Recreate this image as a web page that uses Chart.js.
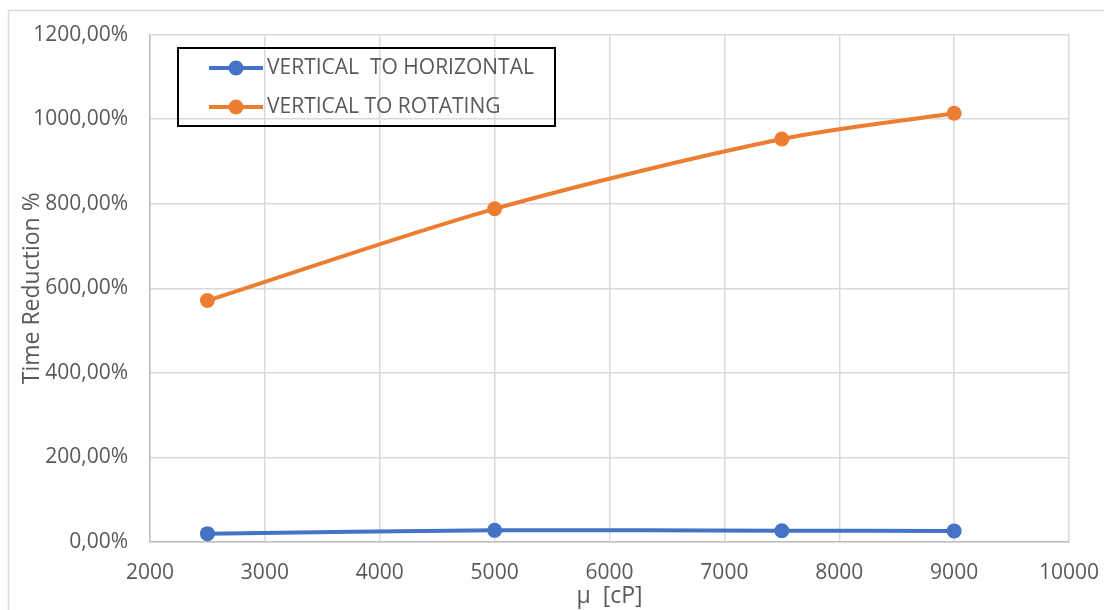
<!DOCTYPE html>
<html>
<head>
<meta charset="utf-8">
<script src="https://cdn.jsdelivr.net/npm/chart.js@4"></script>
<style>
  html, body { margin: 0; padding: 0; background: #fff; }
</style>
</head>
<body>
<canvas id="chart" width="1104" height="610"></canvas>
<script>
// values
const viscosity = [2500, 5000, 7500, 9000];
const horizontal = [19.8, 27.6, 26.7, 26.3];
const rotating = [571, 788, 953, 1014];
const seriesNames = ['VERTICAL  TO HORIZONTAL', 'VERTICAL TO ROTATING'];
const seriesColors = ['#4472C4', '#ED7D31'];
const xRange = [2000, 10000, 1000];
const yRange = [0, 1200, 200];
const xTitle = 'μ  [cP]';
const yTitle = 'Time Reduction %';

const FONT = 'Open Sans';
const TEXT = '#595959';

function toPoints(xs, ys) {
  return xs.map((x, i) => ({ x: x, y: ys[i] }));
}

// white background + thin grey frame like the Excel chart area
const frame = {
  id: 'frame',
  beforeDraw(chart) {
    const ctx = chart.ctx;
    ctx.save();
    ctx.fillStyle = '#fff';
    ctx.fillRect(0, 0, chart.width, chart.height);
    ctx.strokeStyle = '#d9d9d9';
    ctx.lineWidth = 1.5;
    ctx.strokeRect(8.5, 10.5, chart.width + 20, chart.height + 20);
    ctx.restore();
  }
};

// boxed legend inside the plot area
const boxLegend = {
  id: 'boxLegend',
  afterDraw(chart) {
    const ctx = chart.ctx;
    ctx.save();
    ctx.strokeStyle = '#000';
    ctx.lineWidth = 2;
    ctx.strokeRect(178, 48, 377, 78);
    ctx.font = `21px "${FONT}"`;
    ctx.textBaseline = 'middle';
    chart.data.datasets.forEach((ds, i) => {
      const y = 68 + i * 39;
      ctx.strokeStyle = ds.borderColor;
      ctx.lineWidth = 4;
      ctx.beginPath();
      ctx.moveTo(209, y);
      ctx.lineTo(263, y);
      ctx.stroke();
      ctx.fillStyle = ds.borderColor;
      ctx.beginPath();
      ctx.arc(236, y, 7.5, 0, Math.PI * 2);
      ctx.fill();
      ctx.fillStyle = TEXT;
      ctx.fillText(ds.label, 267, y);
    });
    ctx.restore();
  }
};

new Chart(document.getElementById('chart'), {
  type: 'line',
  data: {
    datasets: [
      { label: seriesNames[0], data: toPoints(viscosity, horizontal) },
      { label: seriesNames[1], data: toPoints(viscosity, rotating) }
    ].map((ds, i) => Object.assign(ds, {
      borderColor: seriesColors[i],
      backgroundColor: seriesColors[i],
      pointBackgroundColor: seriesColors[i],
      pointBorderWidth: 0,
      pointRadius: 7.5,
      borderWidth: 4,
      tension: 0.3,
      fill: false
    }))
  },
  options: {
    responsive: false,
    animation: false,
    devicePixelRatio: 1,
    layout: { padding: { top: 34, right: 35, left: 0, bottom: 0 } },
    plugins: {
      legend: { display: false },
      tooltip: { enabled: false }
    },
    scales: {
      x: {
        type: 'linear',
        min: xRange[0],
        max: xRange[1],
        afterFit(scale) {
          scale.height = 68;
          scale.paddingLeft = 0;
          scale.paddingRight = 0;
        },
        ticks: {
          stepSize: xRange[2],
          color: TEXT,
          padding: 18,
          font: { family: FONT, size: 21 },
          callback: v => String(v)
        },
        grid: { color: '#d9d9d9', lineWidth: 1.5, drawTicks: false },
        border: { color: '#bfbfbf', width: 1.5 },
        title: {
          display: true,
          text: xTitle,
          color: TEXT,
          padding: { top: 0, bottom: 0 },
          font: { family: FONT, size: 23 }
        }
      },
      y: {
        min: yRange[0],
        max: yRange[1],
        afterFit(scale) { scale.width = 150; },
        ticks: {
          stepSize: yRange[2],
          color: TEXT,
          padding: 22,
          font: { family: FONT, size: 21 },
          callback: v => v.toFixed(2).replace('.', ',') + '%'
        },
        grid: { color: '#d9d9d9', lineWidth: 1.5, drawTicks: false },
        border: { color: '#bfbfbf', width: 1.5 },
        title: {
          display: true,
          text: yTitle,
          color: TEXT,
          padding: { top: 19, bottom: 0 },
          font: { family: FONT, size: 23 }
        }
      }
    }
  },
  plugins: [frame, boxLegend]
});
</script>
</body>
</html>
